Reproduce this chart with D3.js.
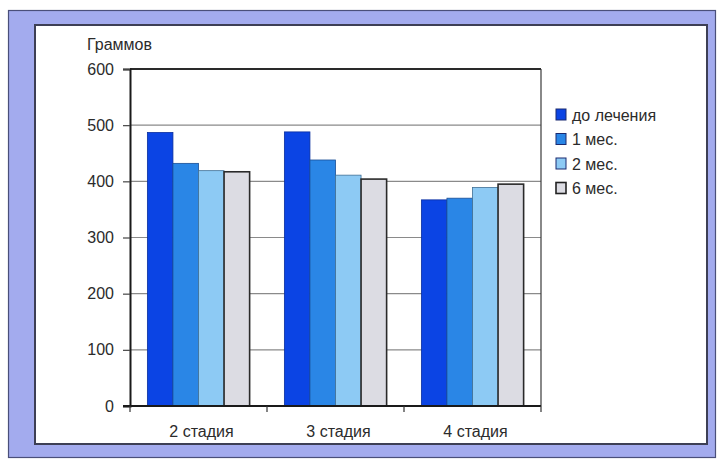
<!DOCTYPE html>
<html>
<head>
<meta charset="utf-8">
<script src="https://cdn.jsdelivr.net/npm/d3@7/dist/d3.min.js"></script>
<style>
  html, body { margin: 0; padding: 0; background: #fff; }
  svg { display: block; }
  text { font-family: "Liberation Sans", Arial, sans-serif; fill: #2b2b2b; }
</style>
</head>
<body>
<svg id="chart" width="719" height="459"></svg>
<script>
// Body weight by disease stage and time since treatment start
const categories = ["2 стадия", "3 стадия", "4 стадия"];
const seriesNames = ["до лечения", "1 мес.", "2 мес.", "6 мес."];
const beforeTreatment = [487, 488, 367];
const month1 = [432, 438, 370];
const month2 = [419, 411, 389];
const month6 = [417, 404, 395];
const yTicks = [0, 100, 200, 300, 400, 500, 600];
const yTitle = "Граммов";

const seriesValues = [beforeTreatment, month1, month2, month6];
const colors = ["#0b44e4", "#2a86e6", "#8dcaf4", "#dcdce3"];
const strokes = ["#0a2f9e", "#1b4f95", "#3f6f96", "#2a2a2a"];

const svg = d3.select("#chart");

// Frame: lavender mat with a white card inside
svg.append("rect")
  .attr("x", 8.5).attr("y", 10.5).attr("width", 707).attr("height", 447)
  .attr("fill", "#a3abee").attr("stroke", "#4a4f7a").attr("stroke-width", 1.2);
svg.append("rect")
  .attr("x", 35).attr("y", 25).attr("width", 672).attr("height", 419)
  .attr("fill", "#ffffff").attr("stroke", "#3d3f55").attr("stroke-width", 2);

const plot = { left: 130, right: 541, top: 69, bottom: 406 };

const x0 = d3.scaleBand().domain(categories).range([plot.left, plot.right]).padding(0);
const x1 = d3.scaleBand().domain(d3.range(seriesNames.length))
  .range([0, x0.bandwidth()]).paddingInner(0).paddingOuter(0.68);
const y = d3.scaleLinear().domain([0, 600]).range([plot.bottom, plot.top]);

// Horizontal gridlines
svg.append("g").selectAll("line")
  .data(yTicks.filter(t => t > 0 && t < 600))
  .join("line")
  .attr("x1", plot.left).attr("x2", plot.right)
  .attr("y1", d => y(d)).attr("y2", d => y(d))
  .attr("stroke", "#8a8a8a").attr("stroke-width", 1.2);

// Plot border: top and right
svg.append("line")
  .attr("x1", plot.left).attr("x2", plot.right)
  .attr("y1", y(600)).attr("y2", y(600))
  .attr("stroke", "#2a2a2a").attr("stroke-width", 1.8);
svg.append("line")
  .attr("x1", plot.right).attr("x2", plot.right)
  .attr("y1", y(600)).attr("y2", y(0))
  .attr("stroke", "#3a3a3a").attr("stroke-width", 1.2);

// Bars
const groups = svg.append("g").selectAll("g")
  .data(categories)
  .join("g")
  .attr("transform", d => `translate(${x0(d)},0)`);

groups.selectAll("rect")
  .data((d, ci) => seriesValues.map((vals, si) => ({ si, v: vals[ci] })))
  .join("rect")
  .attr("x", d => x1(d.si))
  .attr("y", d => y(d.v))
  .attr("width", x1.bandwidth())
  .attr("height", d => y(0) - y(d.v))
  .attr("fill", d => colors[d.si])
  .attr("stroke", d => strokes[d.si])
  .attr("stroke-width", d => d.si === 3 ? 1.6 : 0.8);

// Y axis
const yAxis = d3.axisLeft(y).tickValues(yTicks).tickSize(7).tickPadding(9);
const gy = svg.append("g").attr("transform", `translate(${plot.left},0)`).call(yAxis);
gy.select(".domain").attr("stroke", "#1a1a1a").attr("stroke-width", 2);
gy.selectAll(".tick line").attr("stroke", "#444").attr("stroke-width", 1.2);
gy.selectAll(".tick text").style("font-size", "16px")
  .style("font-family", "'Liberation Sans', Arial, sans-serif").attr("fill", "#2b2b2b");

// X axis: ticks at category boundaries
const gx = svg.append("g");
gx.append("line")
  .attr("x1", plot.left - 7).attr("x2", plot.right)
  .attr("y1", plot.bottom).attr("y2", plot.bottom)
  .attr("stroke", "#1a1a1a").attr("stroke-width", 2);
gx.selectAll("line.tk")
  .data(categories.map(c => x0(c)).concat([plot.right]))
  .join("line").attr("class", "tk")
  .attr("x1", d => d).attr("x2", d => d)
  .attr("y1", plot.bottom).attr("y2", plot.bottom + 6)
  .attr("stroke", "#333").attr("stroke-width", 1.2);
gx.selectAll("text")
  .data(categories)
  .join("text")
  .attr("x", d => x0(d) + x0.bandwidth() / 2 + 3)
  .attr("y", 437)
  .attr("text-anchor", "middle")
  .style("font-size", "16px")
  .text(d => d);

// Axis title
svg.append("text")
  .attr("x", 87).attr("y", 50)
  .style("font-size", "16px")
  .text(yTitle);

// Legend
const legend = svg.append("g").attr("transform", "translate(556,109)");
const items = legend.selectAll("g")
  .data(seriesNames)
  .join("g")
  .attr("transform", (d, i) => `translate(0,${i * 24.5})`);
items.append("rect")
  .attr("x", 0).attr("y", 0).attr("width", 10).attr("height", 11)
  .attr("fill", (d, i) => colors[i])
  .attr("stroke", (d, i) => i === 3 ? "#222" : "#1a2a70")
  .attr("stroke-width", (d, i) => i === 3 ? 1.6 : 1);
items.append("text")
  .attr("x", 16).attr("y", 11.5)
  .style("font-size", "16px")
  .text(d => d);
</script>
</body>
</html>
